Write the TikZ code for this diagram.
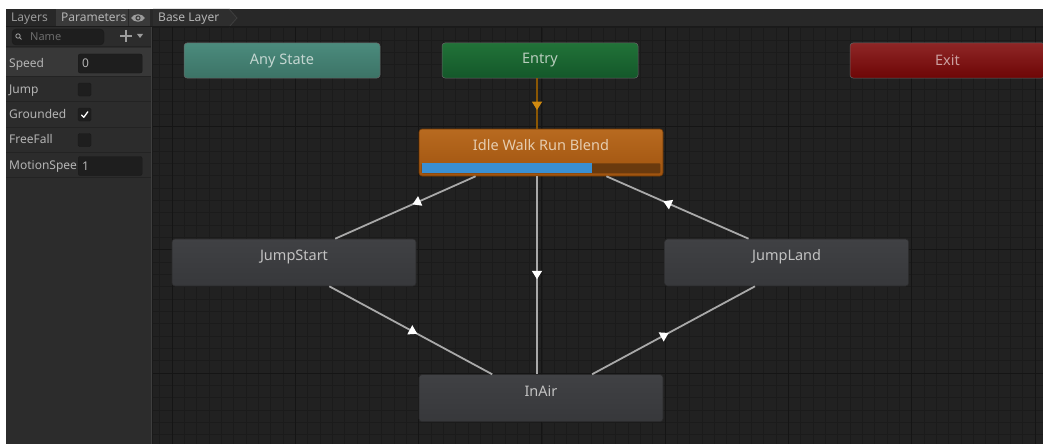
\documentclass[tikz,border=0pt]{standalone}
\usepackage{fontspec}
\setmainfont{Noto Sans}
\usepackage{xcolor}
\usepackage{tikz}
\usetikzlibrary{arrows.meta, positioning, decorations.markings}

\definecolor{graphbg}{HTML}{212121}
\definecolor{gridminor}{HTML}{1B1B1B}
\definecolor{gridmajor}{HTML}{151515}
\definecolor{panelbg}{HTML}{2C2C2C}
\definecolor{rowsel}{HTML}{383838}
\definecolor{rowline}{HTML}{232323}
\definecolor{barbg}{HTML}{282828}
\definecolor{tabsel}{HTML}{3A3A3A}
\definecolor{divider}{HTML}{1A1A1A}
\definecolor{crumbbg}{HTML}{2E2E2E}
\definecolor{crumbline}{HTML}{3E3E3E}
\definecolor{paramtext}{HTML}{B4B4B4}
\definecolor{dimtext}{HTML}{9A9A9A}
\definecolor{fieldbg}{HTML}{1E1E1E}
\definecolor{fieldborder}{HTML}{191919}
\definecolor{icongray}{HTML}{9C9C9C}
\definecolor{anytop}{HTML}{4B8B7D}
\definecolor{anybot}{HTML}{3C7366}
\definecolor{anytext}{HTML}{C4D6D1}
\definecolor{entrytop}{HTML}{217238}
\definecolor{entrybot}{HTML}{14582A}
\definecolor{entrytext}{HTML}{B9CDBD}
\definecolor{exittop}{HTML}{8E2626}
\definecolor{exitbot}{HTML}{6E0606}
\definecolor{exittext}{HTML}{CBA0A0}
\definecolor{idletop}{HTML}{B86A20}
\definecolor{idlebot}{HTML}{A0540F}
\definecolor{idleborder}{HTML}{6E3806}
\definecolor{idletext}{HTML}{E6CDB0}
\definecolor{progbg}{HTML}{6A3A0E}
\definecolor{progfill}{HTML}{3A8FD2}
\definecolor{stgtop}{HTML}{404144}
\definecolor{stgbot}{HTML}{37383B}
\definecolor{stgborder}{HTML}{2A2A2B}
\definecolor{stgtext}{HTML}{C2C2C2}
\definecolor{edgegray}{HTML}{A9A9A9}
\definecolor{entryline}{HTML}{8A5704}
\definecolor{entryarrow}{HTML}{D08A10}

\begin{document}
\begin{tikzpicture}[x=1pt, y=-1pt,
state/.style={rectangle, rounded corners=3pt, minimum width=244pt, minimum height=47pt, text height=9pt, text depth=13pt, font=\fontsize{14.5}{17}\selectfont, text=stgtext, top color=stgtop, bottom color=stgbot, draw=stgborder, line width=0.6pt},
special/.style={rectangle, rounded corners=3pt, minimum width=196pt, minimum height=35pt, font=\fontsize{14.5}{17}\selectfont, draw=black!60, line width=0.5pt},
param/.style={anchor=base west, font=\fontsize{12}{14}\selectfont, text=paramtext, inner sep=0pt},
field/.style={rectangle, rounded corners=2pt, fill=fieldbg, draw=fieldborder, anchor=west, minimum height=19pt, text width=56pt, inner xsep=4pt, inner ysep=0pt, font=\fontsize{12}{14}\selectfont, text=paramtext},
chk/.style={rectangle, rounded corners=1.5pt, fill=fieldbg, draw=fieldborder, minimum size=13pt, inner sep=0pt},
trans/.style={draw=edgegray, line width=1.8pt, postaction={decorate}, decoration={markings, mark=at position #1 with {\arrow[white]{Triangle[length=8.5pt, width=10pt]}}}},
trans/.default=0.5,
entryarr/.style={draw=entryline, line width=1.8pt, postaction={decorate}, decoration={markings, mark=at position 0.63 with {\arrow[entryarrow]{Triangle[length=8.5pt, width=10pt]}}}}
]
\useasboundingbox (0,0) rectangle (1043,444);
\fill[white] (0,0) rectangle (1043,444);

% graph area and grid
\fill[graphbg] (153,27) rectangle (1043,444);
\foreach \i in {0,...,72}
  \draw[gridminor, line width=0.8pt] ({159.67+12.33*\i},27) -- ({159.67+12.33*\i},444);
\foreach \j in {0,...,33}
  \draw[gridminor, line width=0.8pt] (153,{27.7+12.33*\j}) -- (1043,{27.7+12.33*\j});
\foreach \i in {0,...,7}
  \draw[gridmajor, line width=1pt] ({172+123.3*\i},27) -- ({172+123.3*\i},444);
\foreach \y in {126.4,249.7,373}
  \draw[gridmajor, line width=1pt] (153,\y) -- (1043,\y);

% parameters panel
\fill[panelbg] (6,27) rectangle (151,444);
\fill[rowsel] (6,48) rectangle (151,76);
\foreach \y in {47,76,101,127,152,177}
  \draw[rowline, line width=1pt] (6,\y) -- (151,\y);
\fill[divider] (151,9) rectangle (153,444);
\draw[crumbline, line width=0.8pt] (151.5,27) -- (151.5,444);

% top bar
\fill[barbg] (6,9) rectangle (1043,27);
\fill[tabsel] (56,9) rectangle (128,27);
\fill[tabsel] (129,9) rectangle (150,27);
\fill[crumbbg] (153,9) -- (229,9) -- (237,18) -- (229,27) -- (153,27) -- cycle;
\draw[crumbline, line width=0.8pt] (229,9) -- (237,18) -- (229,27);
\draw[divider, line width=1pt] (6,27) -- (1043,27);
\node[param, text=dimtext] (lyr) at (11,21.5) {Layers};
\node[param] (prm) at (61,21.5) {Parameters};
\node[param] (bse) at (158,21.5) {Base Layer};
\fill[icongray] (131,18) .. controls (134,13) and (142,13) .. (145,18) .. controls (142,23) and (134,23) .. (131,18);
\fill[tabsel] (138,18) circle[radius=2.6pt];
\fill[icongray] (138,18) circle[radius=1.5pt];

% search row
\node[rectangle, rounded corners=4pt, fill=fieldbg, draw=fieldborder, minimum width=92pt, minimum height=16pt] (srch) at (58,37) {};
\draw[icongray, line width=0.9pt] (18,36) circle[radius=2.2pt] (19.6,37.6) -- (21.5,39.5);
\node[param, text=dimtext!70!black, font=\fontsize{11}{13}\selectfont] (nme) at (30,41) {Name};
\draw[icongray, line width=1.6pt] (120,36) -- (132,36) (126,30) -- (126,42);
\fill[icongray] (137,34) -- (143,34) -- (140,38) -- cycle;

% parameters
\node[param] (spd) at (9,67) {Speed};
\node[field] (spdf) at (78,63.5) {0};
\node[param] (jmp) at (9,93) {Jump};
\node[chk] (jmpc) at (84.5,89.5) {};
\node[param] (grd) at (9,118.5) {Grounded};
\node[chk] (grdc) at (84.5,114.5) {};
\draw[white, line width=1.3pt, line cap=round, line join=round] (81.5,115) -- (83.8,117.3) -- (87.8,111.8);
\node[param] (ffl) at (9,143.5) {FreeFall};
\node[chk] (fflc) at (84.5,140) {};
\node[param] (msp) at (9,169) {MotionSpee};
\node[field] (mspf) at (78,166) {1};

% states
\node[special, top color=anytop, bottom color=anybot, text=anytext] (anyst) at (282,60.5) {Any State};
\node[special, top color=entrytop, bottom color=entrybot, text=entrytext] (entry) at (540,60.5) {Entry};
\node[special, minimum width=195pt, top color=exittop, bottom color=exitbot, text=exittext] (exit) at (947.5,60.5) {Exit};
\node[state, top color=idletop, bottom color=idlebot, draw=idleborder, text=idletext] (idle) at (541,152.5) {Idle Walk Run Blend};
\fill[progbg, rounded corners=1pt] ([xshift=3pt,yshift=3pt]idle.south west) rectangle ([xshift=-3pt,yshift=13pt]idle.south east);
\fill[progfill] ([xshift=3pt,yshift=3pt]idle.south west) rectangle ++(170,-10);
\node[state] (js) at (294,262.5) {JumpStart};
\node[state, right=248pt of js] (jl) {JumpLand};
\node[state, below=198pt of idle] (inair) {InAir};

% transitions
\draw[entryarr] ([xshift=-3pt]entry.south) -- ([xshift=-4pt]idle.north);
\draw[trans=0.45] (idle.200) -- (js.30);
\draw[trans=0.54] (js.-34) -- (inair.154);
\draw[trans=0.47] (inair.25) -- (jl.217);
\draw[trans=0.6] (jl.148) -- (idle.-20);
\draw[trans=0.52] ([xshift=-4pt]idle.south) -- ([xshift=-4pt]inair.north);
\end{tikzpicture}
\end{document}
